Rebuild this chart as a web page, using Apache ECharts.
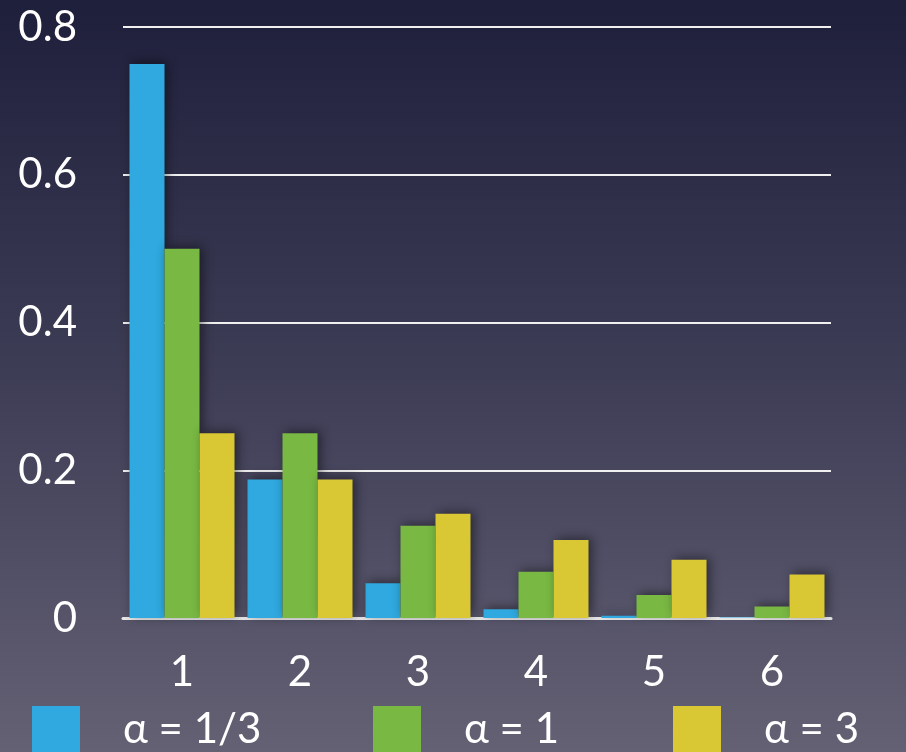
<!DOCTYPE html>
<html><head><meta charset="utf-8">
<script src="https://cdn.jsdelivr.net/npm/echarts@6/dist/echarts.min.js"></script>
<style>html,body{margin:0;padding:0;background:#3a3a52}#c{width:906px;height:752px}</style>
</head><body><div id="c"></div>
<script>
const categories = ['1', '2', '3', '4', '5', '6'];
const seriesNames = ['α = 1/3', 'α = 1', 'α = 3'];
const alphaThird = [0.75, 0.1875, 0.047, 0.0117, 0.003, 0.0007];
const alphaOne = [0.5, 0.25, 0.125, 0.0625, 0.031, 0.0156];
const alphaThree = [0.25, 0.1875, 0.141, 0.1055, 0.079, 0.059];
const yTicks = [0, 0.2, 0.4, 0.6, 0.8];

const colors = ['#2fa9df', '#79b843', '#d9c834'];
const font = 'Lato';
const chart = echarts.init(document.getElementById('c'));
const mk = (name, data, color) => ({
  name, type: 'bar', data, barGap: '0%', barCategoryGap: '11%',
  itemStyle: { color, shadowBlur: 10, shadowColor: 'rgba(0,0,0,0.45)', shadowOffsetX: 3, shadowOffsetY: -2 }
});
const legendPos = [32, 373, 673];
chart.setOption({
  backgroundColor: { type: 'linear', x: 0, y: 0, x2: 0, y2: 1, colorStops: [
    { offset: 0, color: '#1e1f3b' }, { offset: 0.5, color: '#3e3d56' }, { offset: 1, color: '#646174' }] },
  animation: false,
  grid: { left: 123, right: 75, top: 27, bottom: 134, containLabel: false },
  legend: seriesNames.map((n, i) => ({
    data: [n], left: legendPos[i], top: 706, padding: 0, icon: 'rect', itemWidth: 48, itemHeight: 46,
    textStyle: { color: '#fff', fontSize: 42, fontFamily: font, padding: [0, 0, 0, 38] }
  })),
  xAxis: {
    type: 'category', data: categories,
    axisLine: { show: true, lineStyle: { color: '#e8e8e8', width: 3 } },
    axisTick: { show: false },
    axisLabel: { color: '#fff', fontSize: 42, fontFamily: font, margin: 33 }
  },
  yAxis: {
    type: 'value', min: yTicks[0], max: yTicks[yTicks.length - 1], interval: 0.2,
    axisLine: { show: false }, axisTick: { show: false },
    splitLine: { show: true, lineStyle: { color: '#f0f0f0', width: 2 } },
    axisLabel: { color: '#fff', fontSize: 42, fontFamily: font, margin: 46 }
  },
  series: [mk(seriesNames[0], alphaThird, colors[0]), mk(seriesNames[1], alphaOne, colors[1]), mk(seriesNames[2], alphaThree, colors[2])]
});
</script></body></html>
